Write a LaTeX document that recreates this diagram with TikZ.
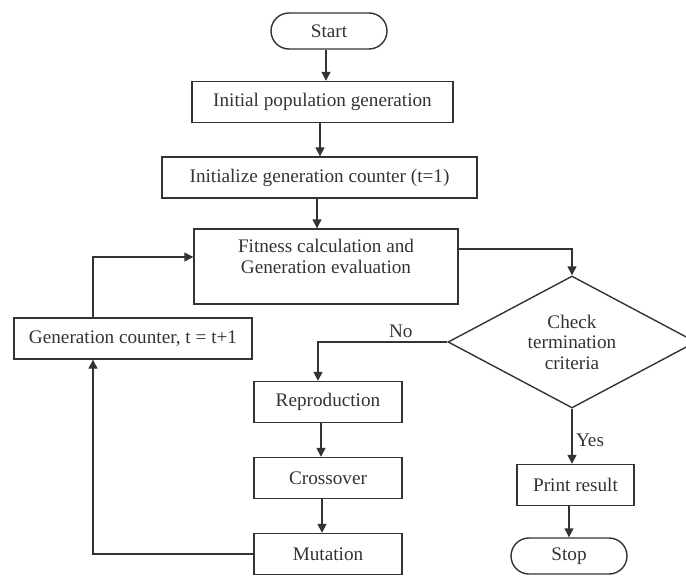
\documentclass[tikz,border=0pt]{standalone}
\usepackage{fontspec}
\setmainfont{Liberation Serif}
\usetikzlibrary{arrows.meta,shapes.geometric,positioning}

\begin{document}
\begin{tikzpicture}[x=1pt,y=-1pt,line width=1.4pt,color=black!80,>={Triangle[length=9pt,width=9pt]}]
\tikzstyle{block} = [draw,rectangle,minimum height=41pt,inner sep=2pt,font=\fontsize{19.2}{21}\selectfont,node distance=76pt]
\tikzstyle{terminal} = [draw,rectangle,rounded corners=18pt,minimum width=116pt,minimum height=36pt,inner sep=2pt,font=\fontsize{19.2}{21}\selectfont]
\tikzstyle{decision} = [draw,diamond,aspect=1.9,inner sep=0pt,minimum width=248pt,minimum height=132pt,align=center,font=\fontsize{19.2}{20.5}\selectfont]

\useasboundingbox (0,0) rectangle (686,576);

\node[terminal] (start) at (329,31) {Start};
\node[block,minimum width=261pt] (init) at (322.5,102) {Initial population generation};
\node[block,minimum width=315pt] (counter) at (319.5,177.5) {Initialize generation counter (t=1)};
\node[block,minimum width=264pt,minimum height=75pt,align=center] (fitness) at (326,266.5) {Fitness calculation and\\Generation evaluation\\};
\node[decision] (check) at (572,342) {Check\\termination\\criteria};
\node[block,minimum width=238pt] (gencount) at (133,338.5) {Generation counter, t = t+1};
\node[block,minimum width=148pt] (repro) at (328,402) {Reproduction};
\node[block,minimum width=148pt,below of=repro] (cross) {Crossover};
\node[block,minimum width=148pt,below of=cross] (mut) {Mutation};
\node[block,minimum width=117pt] (print) at (575.5,485) {Print result};
\node[terminal] (stop) at (569,556) {Stop};

% main column
\draw[->] ([xshift=-3pt]start.south) -- ([xshift=-3pt]start.south |- init.north);
\draw[->] ([xshift=-2.5pt]init.south) -- ([xshift=-2.5pt]init.south |- counter.north);
\draw[->] ([xshift=-2.5pt]counter.south) -- ([xshift=-2.5pt]counter.south |- fitness.north);
\draw[->] ([yshift=17.5pt]fitness.east) -| (check.north);

% branches
\draw[->] (check.west) -| ([xshift=-10pt]repro.north) node[pos=.18,above,font=\fontsize{19.2}{21}\selectfont] {No};
\draw[->] ([xshift=-7pt]repro.south) -- ([xshift=-7pt]repro.south |- cross.north);
\draw[->] ([xshift=-6pt]cross.south) -- ([xshift=-6pt]cross.south |- mut.north);
\draw[->] (check.south) -- (check.south |- print.north) node[pos=.58,right,font=\fontsize{19.2}{21}\selectfont] {Yes};
\draw[->] (print.south -| stop.north) -- (stop.north);

% loop back
\draw[->] (mut.west) -| ([xshift=-40pt]gencount.south);
\draw[->] ([xshift=-40pt]gencount.north) |- ([yshift=9.5pt]fitness.west);

\end{tikzpicture}
\end{document}
